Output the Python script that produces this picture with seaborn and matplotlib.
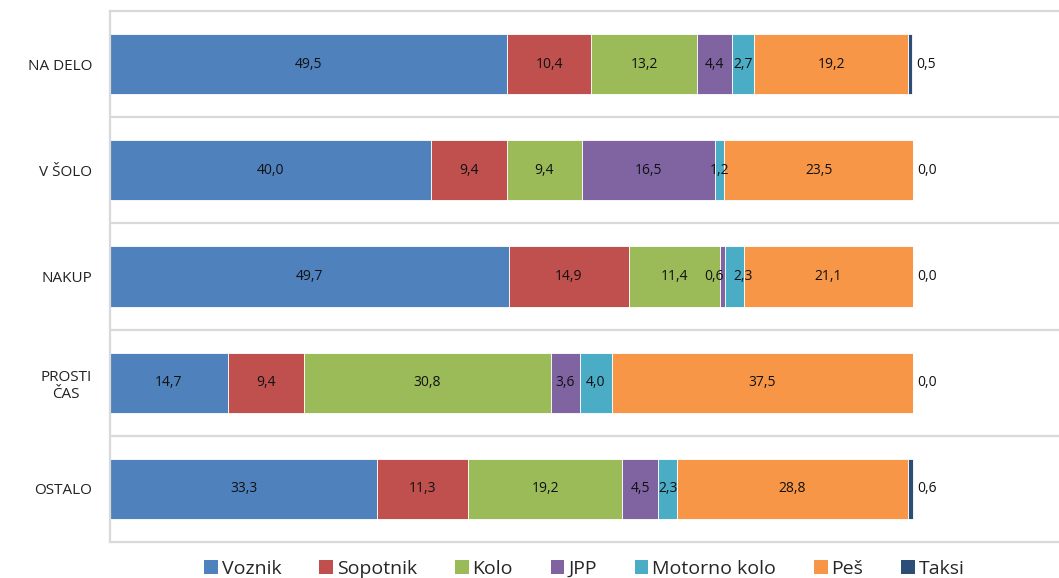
import matplotlib
matplotlib.use("Agg")
import matplotlib.pyplot as plt
import seaborn as sns
import pandas as pd
import numpy as np
from matplotlib.patches import Patch

categories = ["NA DELO", "V ŠOLO", "NAKUP", "PROSTI\nČAS", "OSTALO"]
series = ["Voznik", "Sopotnik", "Kolo", "JPP", "Motorno kolo", "Peš", "Taksi"]
voznik = [49.5, 40.0, 49.7, 14.7, 33.3]
sopotnik = [10.4, 9.4, 14.9, 9.4, 11.3]
kolo = [13.2, 9.4, 11.4, 30.8, 19.2]
jpp = [4.4, 16.5, 0.6, 3.6, 4.5]
motorno = [2.7, 1.2, 2.3, 4.0, 2.3]
pes = [19.2, 23.5, 21.1, 37.5, 28.8]
taksi = [0.5, 0.0, 0.0, 0.0, 0.6]
values = [voznik, sopotnik, kolo, jpp, motorno, pes, taksi]
colors = ["#4F81BD", "#C0504D", "#9BBB59", "#8064A2", "#4BACC6", "#F79646", "#2C4D75"]

sns.set_theme(style="white")
plt.rcParams["font.family"] = ["Open Sans", "DejaVu Sans"]

fig = plt.figure(figsize=(10.59, 5.78), dpi=100)
ax = fig.add_axes([110 / 1059, 1 - 542 / 578, 1 - 110 / 1059, (542 - 11) / 578])

left = np.zeros(len(categories))
for name, vals, col in zip(series, values, colors):
    df = pd.DataFrame({"cat": categories, "val": vals})
    sns.barplot(data=df, y="cat", x="val", orient="h", color=col, width=0.565,
                saturation=1, left=left, ax=ax, edgecolor="white", linewidth=0.6,
                errorbar=None)
    cont = ax.containers[-1]
    labels = [f"{v:.1f}".replace(".", ",") for v in vals]
    if name == "Taksi":
        texts = ax.bar_label(cont, labels=labels, label_type="edge", padding=3,
                             fontsize=10, color="#111111")
    else:
        texts = ax.bar_label(cont, labels=labels, label_type="center",
                             fontsize=10, color="#111111")
    # small neighbouring segments in NAKUP: nudge labels apart as in the original
    if name == "JPP":
        t = texts[2]
        t.xyann = (t.xyann[0] - 6, t.xyann[1])
    if name == "Motorno kolo":
        t = texts[2]
        t.xyann = (t.xyann[0] + 6, t.xyann[1])
    left = left + np.array(vals)

ax.set_xlim(0, 100 * (1059 - 110) / 803)
ax.set_ylim(4.5, -0.5)
ax.set_xlabel("")
ax.set_ylabel("")
ax.set_xticks([])
ax.set_yticks(range(len(categories)))
ax.set_yticklabels(categories, fontsize=11, color="#222222", ha="right",
                   multialignment="center")
ax.tick_params(axis="y", length=0, pad=13)
ax.set_yticks(np.arange(0.5, 4.5, 1), minor=True)
ax.tick_params(axis="y", which="minor", length=0)
ax.grid(axis="y", which="minor", color="#d9d9d9", linewidth=1.6)
ax.grid(axis="y", which="major", visible=False)
ax.set_axisbelow(True)
for s in ["left", "top", "bottom"]:
    ax.spines[s].set_color("#d9d9d9")
    ax.spines[s].set_linewidth(1.6)
ax.spines["right"].set_visible(False)

handles = [Patch(facecolor=c, edgecolor="none") for c in colors]
fig.legend(handles, series, loc="center", bbox_to_anchor=(584.5 / 1059, 1 - 569 / 578),
           ncol=7, frameon=False, fontsize=14,
           handlelength=0.7, handleheight=0.7,
           handletextpad=0.2, columnspacing=1.95, borderaxespad=0)

fig.savefig("out.png", dpi=100)
